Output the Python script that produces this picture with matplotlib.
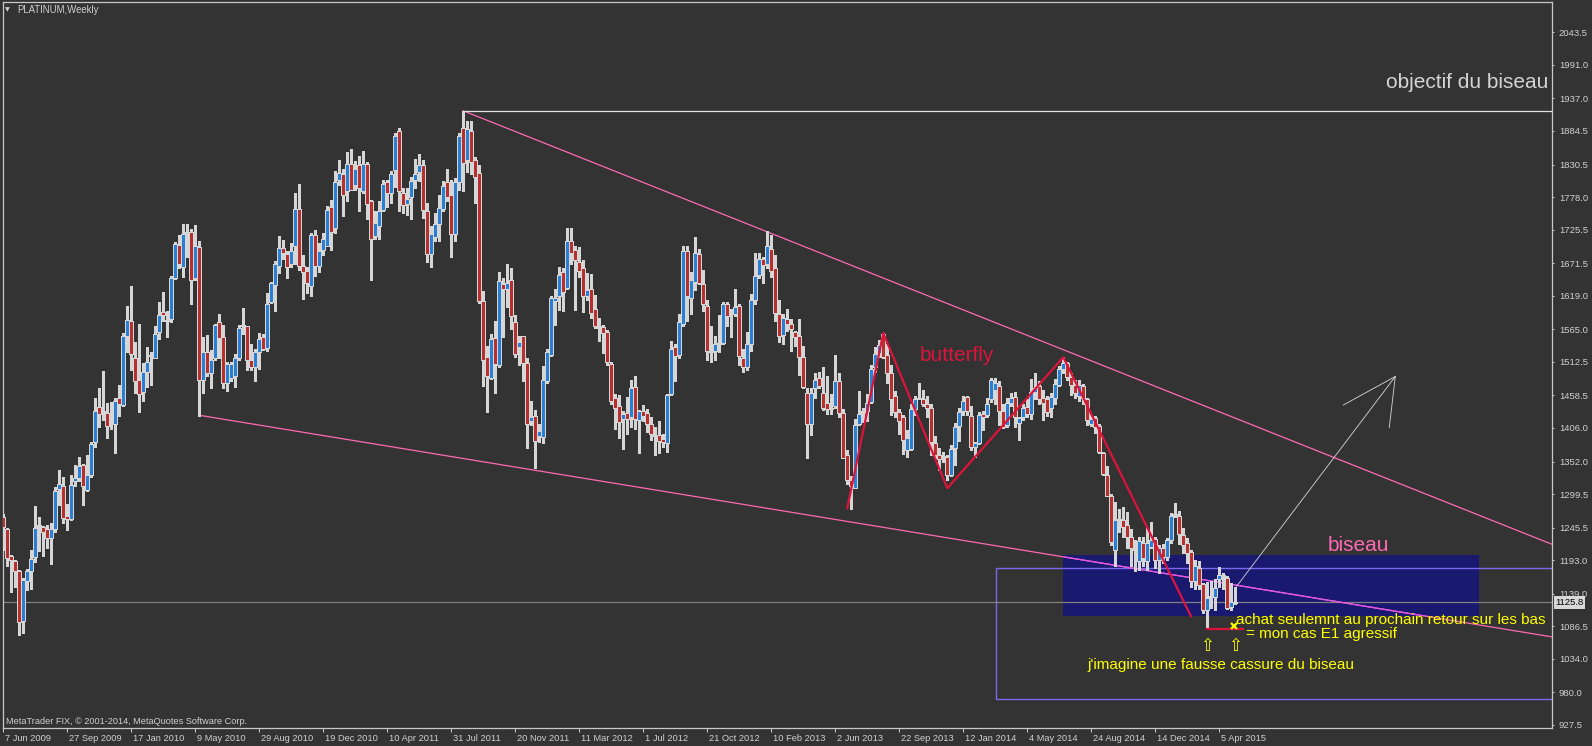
import matplotlib
matplotlib.use('Agg')
import matplotlib.pyplot as plt
import matplotlib.transforms as mtransforms
from matplotlib.patches import Rectangle
import numpy as np

plt.rcParams['font.family'] = ['Liberation Sans', 'DejaVu Sans']

# ---------------- data (weekly PLATINUM) ----------------
opens = [
    1263, 1243, 1199, 1191, 1176, 1095, 1160, 1176, 1198, 1250,
    1246, 1243, 1228, 1243, 1307, 1313, 1265, 1259, 1320, 1325,
    1346, 1306, 1330, 1383, 1440, 1434, 1430, 1413, 1413, 1454,
    1443, 1555, 1578, 1518, 1484, 1464, 1497, 1522, 1519, 1560,
    1593, 1578, 1582, 1647, 1701, 1665, 1721, 1721, 1648, 1697,
    1484, 1528, 1494, 1519, 1576, 1552, 1479, 1487, 1489, 1518,
    1570, 1570, 1516, 1504, 1528, 1552, 1535, 1609, 1636, 1667,
    1696, 1687, 1670, 1699, 1759, 1667, 1659, 1634, 1717, 1667,
    1692, 1700, 1762, 1729, 1805, 1815, 1788, 1831, 1797, 1829,
    1788, 1831, 1772, 1715, 1732, 1758, 1802, 1784, 1821, 1885,
    1784, 1767, 1778, 1805, 1819, 1830, 1756, 1686, 1714, 1734,
    1759, 1802, 1781, 1718, 1802, 1889, 1837, 1884, 1837, 1817,
    1611, 1521, 1487, 1551, 1507, 1638, 1630, 1645, 1576, 1536,
    1554, 1511, 1418, 1426, 1393, 1391, 1481, 1523, 1611, 1618,
    1657, 1631, 1707, 1693, 1673, 1663, 1619, 1630, 1598, 1571,
    1569, 1560, 1509, 1454, 1442, 1420, 1430, 1424, 1472, 1419,
    1433, 1430, 1413, 1395, 1395, 1389, 1382, 1460, 1536, 1524,
    1574, 1691, 1615, 1642, 1686, 1638, 1603, 1530, 1530, 1541,
    1543, 1605, 1593, 1590, 1603, 1519, 1504, 1541, 1612, 1652,
    1678, 1670, 1694, 1664, 1589, 1556, 1582, 1573, 1560, 1555,
    1520, 1462, 1413, 1470, 1487, 1462, 1446, 1438, 1441, 1482,
    1430, 1363, 1322, 1310, 1412, 1434, 1433, 1448, 1505, 1527,
    1557, 1524, 1494, 1457, 1432, 1424, 1371, 1372, 1436, 1454,
    1453, 1444, 1438, 1382, 1363, 1360, 1360, 1330, 1374, 1410,
    1433, 1456, 1426, 1376, 1382, 1429, 1427, 1452, 1467, 1473,
    1433, 1411, 1446, 1456, 1414, 1424, 1440, 1429, 1464, 1474,
    1454, 1453, 1438, 1454, 1476, 1501, 1510, 1488, 1475, 1458,
    1474, 1453, 1412, 1422, 1410, 1365, 1331, 1297, 1210, 1260,
    1258, 1249, 1230, 1211, 1191, 1220, 1191, 1215, 1227, 1193,
    1212, 1198, 1226, 1264, 1264, 1234, 1220, 1206, 1160, 1180,
    1154, 1112, 1133, 1133, 1162, 1169, 1165, 1117, 1124,
]
highs = [
    1268, 1245, 1201, 1193, 1177, 1164, 1179, 1210, 1280, 1263,
    1248, 1250, 1253, 1311, 1339, 1327, 1283, 1330, 1346, 1359,
    1348, 1362, 1383, 1454, 1471, 1498, 1446, 1448, 1454, 1475,
    1559, 1602, 1635, 1544, 1573, 1511, 1536, 1529, 1571, 1609,
    1625, 1595, 1651, 1705, 1717, 1735, 1735, 1726, 1733, 1707,
    1553, 1556, 1531, 1574, 1589, 1572, 1513, 1512, 1526, 1572,
    1599, 1571, 1541, 1534, 1559, 1558, 1624, 1642, 1675, 1715,
    1709, 1691, 1704, 1785, 1799, 1685, 1665, 1720, 1725, 1704,
    1720, 1763, 1773, 1820, 1837, 1823, 1850, 1855, 1836, 1844,
    1852, 1835, 1774, 1756, 1771, 1806, 1806, 1820, 1882, 1889,
    1792, 1792, 1811, 1839, 1848, 1837, 1768, 1731, 1752, 1782,
    1804, 1824, 1806, 1808, 1882, 1917, 1900, 1901, 1843, 1829,
    1626, 1538, 1557, 1579, 1658, 1648, 1671, 1663, 1588, 1555,
    1555, 1518, 1449, 1435, 1413, 1506, 1534, 1619, 1630, 1666,
    1663, 1728, 1729, 1699, 1697, 1677, 1656, 1654, 1620, 1583,
    1572, 1564, 1513, 1460, 1459, 1433, 1456, 1483, 1489, 1435,
    1443, 1437, 1423, 1407, 1417, 1397, 1460, 1546, 1541, 1590,
    1699, 1700, 1658, 1713, 1694, 1660, 1612, 1570, 1555, 1588,
    1609, 1609, 1598, 1630, 1605, 1534, 1560, 1622, 1688, 1688,
    1682, 1724, 1717, 1685, 1612, 1590, 1597, 1582, 1563, 1582,
    1538, 1470, 1471, 1494, 1497, 1505, 1489, 1461, 1523, 1494,
    1437, 1371, 1328, 1421, 1466, 1439, 1460, 1508, 1536, 1548,
    1559, 1542, 1508, 1466, 1437, 1427, 1403, 1444, 1457, 1479,
    1467, 1457, 1444, 1393, 1374, 1368, 1363, 1379, 1414, 1438,
    1457, 1458, 1442, 1383, 1432, 1433, 1455, 1487, 1486, 1482,
    1444, 1455, 1462, 1464, 1424, 1445, 1452, 1485, 1494, 1481,
    1467, 1457, 1463, 1485, 1506, 1521, 1512, 1494, 1483, 1483,
    1477, 1454, 1427, 1426, 1412, 1367, 1344, 1300, 1287, 1276,
    1279, 1271, 1243, 1226, 1231, 1231, 1245, 1254, 1231, 1217,
    1219, 1228, 1269, 1285, 1273, 1245, 1228, 1210, 1193, 1191,
    1156, 1158, 1160, 1162, 1182, 1173, 1168, 1157, 1150,
]
lows = [
    1210, 1183, 1142, 1150, 1073, 1075, 1145, 1147, 1190, 1208,
    1199, 1212, 1187, 1238, 1282, 1253, 1242, 1258, 1312, 1320,
    1282, 1305, 1327, 1376, 1408, 1419, 1390, 1404, 1365, 1425,
    1442, 1529, 1500, 1463, 1431, 1450, 1472, 1475, 1518, 1549,
    1578, 1552, 1576, 1646, 1664, 1649, 1682, 1606, 1644, 1426,
    1463, 1489, 1471, 1516, 1519, 1471, 1465, 1482, 1472, 1516,
    1557, 1499, 1500, 1482, 1501, 1531, 1530, 1607, 1595, 1655,
    1678, 1648, 1666, 1671, 1660, 1614, 1623, 1619, 1651, 1658,
    1684, 1699, 1693, 1720, 1797, 1747, 1772, 1789, 1790, 1756,
    1785, 1742, 1644, 1711, 1711, 1756, 1762, 1768, 1795, 1756,
    1752, 1749, 1742, 1792, 1804, 1745, 1674, 1666, 1708, 1708,
    1755, 1772, 1682, 1707, 1789, 1788, 1819, 1815, 1769, 1608,
    1474, 1431, 1485, 1463, 1505, 1553, 1601, 1565, 1521, 1507,
    1482, 1374, 1411, 1342, 1384, 1382, 1478, 1522, 1572, 1596,
    1594, 1630, 1671, 1596, 1649, 1593, 1612, 1583, 1567, 1546,
    1527, 1507, 1445, 1405, 1390, 1372, 1397, 1407, 1404, 1366,
    1418, 1400, 1386, 1363, 1366, 1375, 1368, 1459, 1481, 1519,
    1571, 1579, 1590, 1629, 1638, 1594, 1515, 1512, 1515, 1528,
    1542, 1571, 1553, 1586, 1508, 1497, 1500, 1530, 1605, 1647,
    1640, 1664, 1649, 1579, 1544, 1542, 1563, 1530, 1538, 1492,
    1470, 1357, 1395, 1454, 1471, 1435, 1428, 1428, 1438, 1424,
    1357, 1316, 1276, 1309, 1411, 1415, 1417, 1446, 1497, 1521,
    1518, 1478, 1427, 1424, 1397, 1364, 1360, 1371, 1427, 1452,
    1441, 1423, 1363, 1358, 1338, 1352, 1323, 1329, 1346, 1385,
    1427, 1427, 1371, 1360, 1380, 1403, 1424, 1448, 1444, 1411,
    1406, 1408, 1441, 1407, 1386, 1419, 1424, 1420, 1453, 1445,
    1419, 1426, 1423, 1444, 1473, 1494, 1483, 1459, 1454, 1449,
    1444, 1411, 1409, 1398, 1365, 1330, 1296, 1217, 1183, 1238,
    1231, 1212, 1183, 1175, 1178, 1183, 1178, 1212, 1180, 1172,
    1188, 1194, 1220, 1263, 1219, 1205, 1189, 1150, 1147, 1146,
    1108, 1082, 1116, 1112, 1150, 1146, 1114, 1113, 1123,
]
closes = [
    1246, 1197, 1194, 1175, 1093, 1161, 1176, 1195, 1245, 1246,
    1239, 1229, 1243, 1304, 1316, 1261, 1260, 1314, 1325, 1345,
    1312, 1331, 1381, 1434, 1428, 1431, 1410, 1412, 1449, 1444,
    1555, 1580, 1526, 1481, 1460, 1496, 1512, 1523, 1557, 1588,
    1588, 1578, 1648, 1703, 1670, 1719, 1719, 1645, 1700, 1484,
    1528, 1494, 1516, 1572, 1551, 1479, 1509, 1509, 1518, 1567,
    1570, 1516, 1505, 1528, 1549, 1533, 1605, 1640, 1670, 1696,
    1688, 1665, 1691, 1759, 1667, 1657, 1640, 1717, 1667, 1691,
    1710, 1758, 1721, 1802, 1817, 1782, 1831, 1790, 1823, 1792,
    1831, 1767, 1710, 1737, 1756, 1799, 1784, 1815, 1877, 1788,
    1766, 1775, 1804, 1815, 1830, 1758, 1686, 1718, 1734, 1760,
    1796, 1778, 1718, 1802, 1877, 1833, 1888, 1835, 1810, 1610,
    1516, 1489, 1549, 1509, 1643, 1630, 1640, 1587, 1526, 1544,
    1511, 1413, 1423, 1385, 1401, 1483, 1529, 1615, 1616, 1653,
    1625, 1707, 1688, 1676, 1659, 1618, 1629, 1592, 1570, 1567,
    1559, 1512, 1449, 1439, 1416, 1428, 1420, 1471, 1420, 1434,
    1426, 1413, 1397, 1393, 1385, 1383, 1459, 1533, 1522, 1577,
    1691, 1618, 1644, 1688, 1640, 1605, 1530, 1528, 1541, 1543,
    1605, 1586, 1590, 1601, 1522, 1504, 1542, 1613, 1651, 1678,
    1669, 1699, 1659, 1592, 1555, 1584, 1573, 1565, 1552, 1520,
    1472, 1412, 1463, 1483, 1474, 1438, 1436, 1436, 1482, 1430,
    1358, 1322, 1312, 1411, 1429, 1430, 1446, 1501, 1526, 1540,
    1521, 1494, 1453, 1432, 1417, 1386, 1390, 1436, 1453, 1453,
    1444, 1438, 1383, 1363, 1356, 1360, 1330, 1372, 1407, 1432,
    1449, 1433, 1376, 1382, 1427, 1424, 1445, 1483, 1478, 1434,
    1408, 1446, 1454, 1424, 1422, 1438, 1429, 1464, 1471, 1453,
    1446, 1431, 1456, 1477, 1501, 1511, 1488, 1475, 1462, 1475,
    1454, 1419, 1420, 1407, 1367, 1332, 1297, 1222, 1258, 1256,
    1247, 1231, 1212, 1210, 1224, 1197, 1220, 1226, 1193, 1212,
    1198, 1226, 1264, 1267, 1236, 1218, 1205, 1160, 1183, 1153,
    1112, 1132, 1135, 1148, 1169, 1165, 1116, 1126, 1125.8,
]

date_labels = ['7 Jun 2009', '27 Sep 2009', '17 Jan 2010', '9 May 2010', '29 Aug 2010',
               '19 Dec 2010', '10 Apr 2011', '31 Jul 2011', '20 Nov 2011', '11 Mar 2012',
               '1 Jul 2012', '21 Oct 2012', '10 Feb 2013', '2 Jun 2013', '22 Sep 2013',
               '12 Jan 2014', '4 May 2014', '24 Aug 2014', '14 Dec 2014', '5 Apr 2015']
date_tick_index = [0, 16, 32, 48, 64, 80, 96, 112, 128, 144,
                   160, 176, 192, 208, 224, 240, 256, 272, 288, 304]
price_ticks = [2043.5, 1991.0, 1937.0, 1884.5, 1830.5, 1778.0, 1725.5, 1671.5, 1619.0,
               1565.0, 1512.5, 1458.5, 1406.0, 1352.0, 1299.5, 1245.5, 1193.0, 1139.0,
               1086.5, 1034.0, 980.0, 927.5]
last_price = 1125.8

# drawn objects (anchor index, price)
objectif_anchor = (115, 1917)
upper_trend = [(115, 1917), (191, 1722)]
lower_trend = [(49, 1426.5), (300, 1161.5)]
butterfly_pts_idx = [211, 220, 236, 265, 296.9]
butterfly_pts_price = [1277, 1559, 1309, 1520, 1103]
red_level = (301, 310, 1082)
blue_zone = (264.85, 368.9, 1103, 1201.5)
purple_box = (248.1, 400, 969, 1180)
arrow_start = (308.35, 1151)
arrow_tip = (348, 1489)
arrow_wings = [(335, 1443), (346.5, 1407)]

# ---------------- style ----------------
W, H = 1592, 746
BG = '#333333'
FG = '#d0d0d0'
WICK = '#d6d6d6'
BULL = '#2a7fd4'
BEAR = '#b5302e'
PINK = '#ff69b4'
CRIMSON = '#dc143c'
YELLOW = '#ffff00'

fig = plt.figure(figsize=(W / 100, H / 100), dpi=100, facecolor=BG)
left_px, right_px, top_px, bot_px = 3.0, 1552.3, 2.3, 728.3
ax = fig.add_axes([left_px / W, 1 - bot_px / H, (right_px - left_px) / W, (bot_px - top_px) / H])
ax.set_facecolor(BG)

xmin = -0.075
xmax = xmin + (right_px - left_px) / 4.0
ppx = 1.6111  # price per pixel
ymin = 2043.5 - (bot_px - 32.3) * ppx
ymax = 2043.5 + (32.3 - top_px) * ppx
ax.set_xlim(xmin, xmax)
ax.set_ylim(ymin, ymax)

for s in ax.spines.values():
    s.set_color('#c8c8c8')
    s.set_linewidth(0.9)

# rectangles (background objects)
bz = Rectangle((blue_zone[0], blue_zone[2]), blue_zone[1] - blue_zone[0], blue_zone[3] - blue_zone[2],
               facecolor='#191970', edgecolor='none', zorder=1)
ax.add_patch(bz)
ax.add_patch(Rectangle((purple_box[0], purple_box[2]), purple_box[1] - purple_box[0],
                       purple_box[3] - purple_box[2], facecolor='none', edgecolor='#7b68ee',
                       linewidth=1.0, zorder=2))

# price line
ax.axhline(last_price, color='#808080', linewidth=0.9, zorder=2)

# trend lines
def ray(p0, p1, xend):
    slope = (p1[1] - p0[1]) / (p1[0] - p0[0])
    return [p0[0], xend], [p0[1], p0[1] + slope * (xend - p0[0])]

ux, uy = ray(upper_trend[0], upper_trend[1], xmax + 1)
ax.plot(ux, uy, color=PINK, linewidth=0.9, zorder=3)
lx, ly = ray(lower_trend[0], lower_trend[1], xmax + 1)
ax.plot(lx, ly, color=PINK, linewidth=0.9, zorder=3)
inner, = ax.plot(lx, ly, color='#e055e8', linewidth=0.9, zorder=3.1)
inner.set_clip_path(bz)

ax.plot([objectif_anchor[0], xmax + 1], [objectif_anchor[1]] * 2, color='#e0e0e0', linewidth=0.9, zorder=3)

# candles
o = np.array(opens, float); c = np.array(closes, float)
h = np.array(highs, float); l = np.array(lows, float)
idx = np.arange(len(c))
top = np.maximum(o, c); bot = np.minimum(o, c)
ax.vlines(idx, l, h, colors=WICK, linewidths=0.75, capstyle='butt', antialiased=False, zorder=5)
ax.vlines(idx, bot, np.maximum(top, bot + ppx), colors=WICK, linewidths=2.2, capstyle='butt',
          antialiased=False, zorder=6)
big = (top - bot) > 2.5 * ppx
fill_cols = np.where(c >= o, BULL, BEAR)
ax.vlines(idx[big], bot[big] + ppx, top[big] - ppx, colors=list(fill_cols[big]), linewidths=0.75,
          capstyle='butt', antialiased=False, zorder=7)

# butterfly zigzag
ax.plot(butterfly_pts_idx, butterfly_pts_price, color=CRIMSON, linewidth=1.6, zorder=8)
ax.plot([red_level[0], red_level[1]], [red_level[2]] * 2, color=CRIMSON, linewidth=1.6, zorder=8)

# arrow
ax.plot([arrow_start[0], arrow_tip[0]], [arrow_start[1], arrow_tip[1]], color='#d8d8d8', linewidth=0.6, zorder=8)
for wx, wy in arrow_wings:
    ax.plot([wx, arrow_tip[0]], [wy, arrow_tip[1]], color='#d8d8d8', linewidth=0.6, zorder=8)

# annotations
ax.text(229, 1514, 'butterfly', color=CRIMSON, fontsize=15, ha='left', va='baseline', zorder=9)
ax.text(331.2, 1208, 'biseau', color=PINK, fontsize=15, ha='left', va='baseline', zorder=9)
ax.text(386.2, 1953, 'objectif du biseau', color='#d4d4d4', fontsize=15, ha='right', va='baseline', zorder=9)
ax.text(308.1, 1090, 'achat seulemnt au prochain retour sur les bas', color=YELLOW, fontsize=11,
        ha='left', va='baseline', zorder=9, clip_on=False)
ax.text(310.7, 1068, '= mon cas E1 agressif', color=YELLOW, fontsize=11, ha='left', va='baseline', zorder=9)
ax.text(270.9, 1018, "j'imagine une fausse cassure du biseau", color=YELLOW, fontsize=11,
        ha='left', va='baseline', zorder=9)
for ax_i in (301, 307.9):
    ax.text(ax_i, 1055, '\u21e7', color=YELLOW, fontsize=12, ha='center', va='center',
            family='DejaVu Sans', zorder=9)
ax.plot([307.7], [1087], marker='x', color=YELLOW, markersize=5, markeredgewidth=1.6, zorder=9)

# axes ticks
ax.yaxis.tick_right()
ax.set_yticks(price_ticks)
ax.set_yticklabels([f'{v:.1f}' for v in price_ticks])
ax.tick_params(axis='y', colors='#c8c8c8', labelcolor=FG, length=1.6, width=0.75, pad=3.2, labelsize=6.8)
ax.set_xticks(date_tick_index)
ax.set_xticklabels(date_labels)
ax.tick_params(axis='x', colors='#c8c8c8', labelcolor=FG, length=3.0, width=0.75, pad=0.8, labelsize=6.7)
offset = mtransforms.ScaledTranslation(2 / 100, 0, fig.dpi_scale_trans)
for lbl in ax.get_xticklabels():
    lbl.set_horizontalalignment('left')
    lbl.set_transform(lbl.get_transform() + offset)

# price label box
fig.text(1555.5 / W, 1 - 602.3 / H, f'{last_price:.1f}', color='#000000', fontsize=6.8, ha='left',
         va='center', bbox=dict(boxstyle='square,pad=0.18', facecolor='#d8d8d8', edgecolor='none'))

# header and footer texts
fig.text(5 / W, 1 - 10 / H, '\u25bc', color=FG, fontsize=4.5, ha='left', va='center', family='DejaVu Sans')
fig.text(17 / W, 1 - 10 / H, 'PLATINUM,Weekly', color=FG, fontsize=6.9, ha='left', va='center')
fig.text(6 / W, 1 - 721 / H, 'MetaTrader FIX, \u00a9 2001-2014, MetaQuotes Software Corp.', color=FG,
         fontsize=6.6, ha='left', va='center')

fig.savefig('out.png', dpi=100, facecolor=BG)
